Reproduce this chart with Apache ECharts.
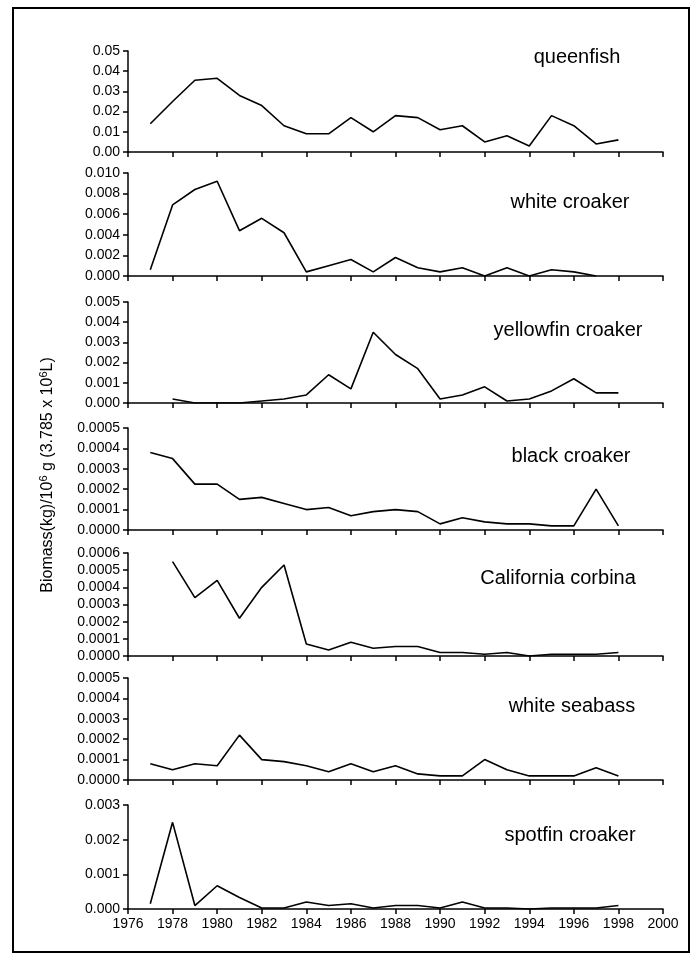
<!DOCTYPE html>
<html><head><meta charset="utf-8">
<script src="https://cdn.jsdelivr.net/npm/echarts@6/dist/echarts.min.js"></script>
<style>html,body{margin:0;padding:0;background:#fff}#c{width:695px;height:959px}</style>
</head><body><div id="c"></div>
<script>
const years = [1977,1978,1979,1980,1981,1982,1983,1984,1985,1986,1987,1988,1989,1990,1991,1992,1993,1994,1995,1996,1997,1998];
const species = ["queenfish","white croaker","yellowfin croaker","black croaker","California corbina","white seabass","spotfin croaker"];
const queenfish = [0.014,0.025,0.0355,0.0365,0.028,0.023,0.013,0.009,0.009,0.017,0.010,0.018,0.017,0.011,0.013,0.005,0.008,0.003,0.018,0.013,0.004,0.006];
const whiteCroaker = [0.0006,0.0069,0.0084,0.0092,0.0044,0.0056,0.0042,0.0004,0.001,0.0016,0.0004,0.0018,0.0008,0.0004,0.0008,0.0,0.0008,0.0,0.0006,0.0004,0.0,null];
const yellowfinCroaker = [null,0.0002,0,0,0,0.0001,0.0002,0.0004,0.0014,0.0007,0.0035,0.0024,0.0017,0.0002,0.0004,0.0008,0.0001,0.0002,0.0006,0.0012,0.0005,0.0005];
const blackCroaker = [0.00038,0.00035,0.000225,0.000225,0.00015,0.00016,0.00013,0.0001,0.00011,0.00007,0.00009,0.0001,0.00009,0.00003,0.00006,0.00004,0.00003,0.00003,0.00002,0.00002,0.0002,0.00002];
const californiaCorbina = [null,0.00055,0.00034,0.00044,0.00022,0.0004,0.00053,0.00007,0.000035,0.00008,0.000045,0.000055,0.000055,0.00002,0.00002,0.00001,0.00002,0,0.00001,0.00001,0.00001,0.00002];
const whiteSeabass = [0.00008,0.00005,0.00008,0.00007,0.00022,0.0001,0.00009,0.00007,0.00004,0.00008,0.00004,0.00007,0.00003,0.00002,0.00002,0.0001,0.00005,0.00002,0.00002,0.00002,0.00006,0.00002];
const spotfinCroaker = [0.00015,0.0025,0.0001,0.00067,0.00033,0.00003,0.00003,0.0002,0.0001,0.00015,0.00003,0.0001,0.0001,0.00003,0.0002,0.00003,0.00003,0,0.00003,0.00003,0.00003,0.0001];
const seriesValues = [queenfish,whiteCroaker,yellowfinCroaker,blackCroaker,californiaCorbina,whiteSeabass,spotfinCroaker];
const yMax = [0.05,0.01,0.005,0.0005,0.0006,0.0005,0.003];
const yInterval = [0.01,0.002,0.001,0.0001,0.0001,0.0001,0.001];
const yDecimals = [2,3,3,4,4,4,3];
const xMin = 1976, xMax = 2000, xInterval = 2;

// layout (pixels)
const gridTops = [51,173,302,428,553,678,805];
const gridBottoms = [152,276,403,530,656,780,909];
const labelPos = [[577,57],[570,202],[568,330],[571,456],[558,578],[572,706],[570,835]];

const FONT = "'Liberation Sans', Arial, sans-serif";
const grids=[], xAxes=[], yAxes=[], series=[], graphics=[];
for (let i=0;i<7;i++){
  grids.push({left:128, width:535, top:gridTops[i], height:gridBottoms[i]-gridTops[i]});
  xAxes.push({type:'value', gridIndex:i, min:xMin, max:xMax, interval:xInterval,
    axisLine:{show:true, onZero:false, lineStyle:{color:'#000', width:1.5}},
    axisTick:{show:true, inside:false, length:5, lineStyle:{color:'#000', width:1.5}},
    axisLabel:{show:i===6, color:'#000', fontSize:14, fontFamily:FONT, margin:8, formatter:v=>String(v)},
    splitLine:{show:false}});
  const d = yDecimals[i];
  yAxes.push({type:'value', gridIndex:i, min:0, max:yMax[i], interval:yInterval[i],
    axisLine:{show:true, lineStyle:{color:'#000', width:1.5}},
    axisTick:{show:true, inside:false, length:5, lineStyle:{color:'#000', width:1.5}},
    axisLabel:{color:'#000', fontSize:14, fontFamily:FONT, margin:8, formatter:v=>v.toFixed(d)},
    splitLine:{show:false}});
  series.push({type:'line', xAxisIndex:i, yAxisIndex:i, showSymbol:false, symbol:'none',
    connectNulls:false, animation:false,
    lineStyle:{color:'#000', width:1.6},
    data: years.map((y,k)=>[y, seriesValues[i][k]]).filter(p=>p[1]!==null)});
  graphics.push({type:'text', x:labelPos[i][0], y:labelPos[i][1],
    style:{text:species[i], fill:'#000', font:'20px '+FONT, align:'center', verticalAlign:'middle'}});
}
graphics.push({type:'rect', shape:{x:13,y:8,width:676,height:944}, style:{fill:'none', stroke:'#000', lineWidth:2}});
graphics.push({type:'text', x:48, y:475, rotation:Math.PI/2,
  style:{text:'Biomass(kg)/10{s|6} g (3.785 x 10{s|6}L)', fill:'#000', font:'16px '+FONT,
    align:'center', verticalAlign:'middle',
    rich:{s:{fontSize:11, fontFamily:FONT, fill:'#000', padding:[0,0,9,0]}}}});

const chart = echarts.init(document.getElementById('c'), null, {renderer:'canvas'});
chart.setOption({animation:false, grid:grids, xAxis:xAxes, yAxis:yAxes, series:series, graphic:graphics});
</script></body></html>
